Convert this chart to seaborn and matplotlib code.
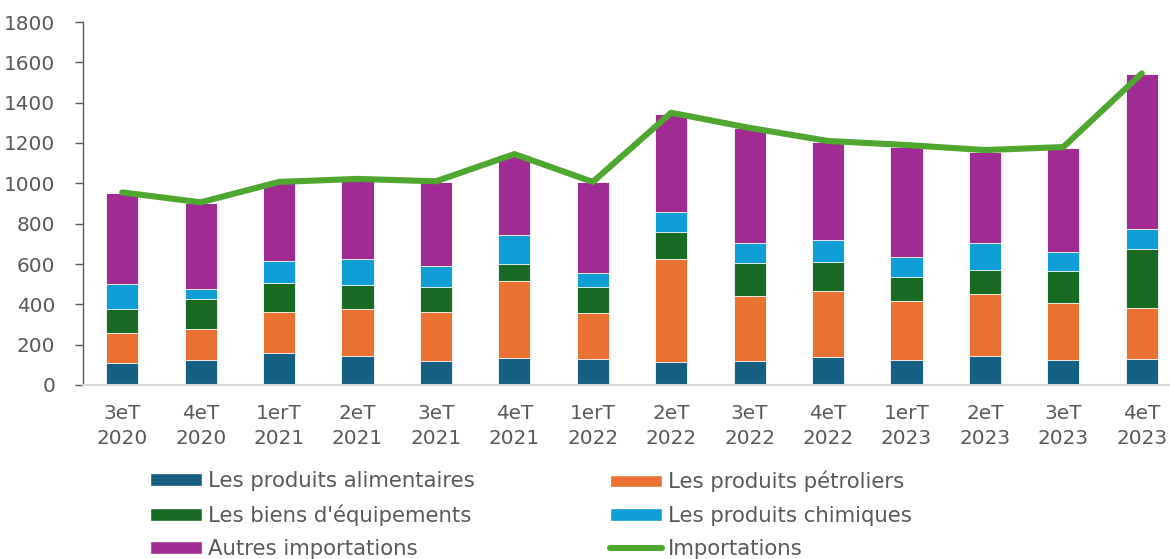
import numpy as np
import pandas as pd
import matplotlib
matplotlib.use("Agg")
import matplotlib.pyplot as plt
from matplotlib.patches import Patch
from matplotlib.lines import Line2D
import seaborn as sns

# Quarterly import values by product group
quarters = ["3eT\n2020", "4eT\n2020", "1erT\n2021", "2eT\n2021", "3eT\n2021", "4eT\n2021",
            "1erT\n2022", "2eT\n2022", "3eT\n2022", "4eT\n2022", "1erT\n2023", "2eT\n2023",
            "3eT\n2023", "4eT\n2023"]
alimentaires = [111, 122, 159, 145, 121, 135, 127, 113, 117, 139, 124, 142, 126, 127]
petroliers = [148, 156, 201, 232, 241, 382, 230, 513, 324, 327, 293, 308, 281, 255]
equipements = [116, 147, 144, 117, 122, 81, 130, 131, 162, 145, 120, 119, 157, 291]
chimiques = [124, 51, 111, 131, 104, 144, 70, 99, 100, 108, 96, 134, 97, 101]
autres = [454, 428, 392, 395, 419, 399, 450, 489, 570, 488, 549, 454, 516, 768]
importations = [955, 906, 1007, 1022, 1010, 1145, 1007, 1350, 1275, 1210, 1190, 1165, 1180, 1545]

series_names = ["Les produits alimentaires", "Les produits pétroliers", "Les biens d'équipements",
                "Les produits chimiques", "Autres importations"]
series_values = [alimentaires, petroliers, equipements, chimiques, autres]
colors = ["#156082", "#E97132", "#196B24", "#0F9ED5", "#A02B93"]
line_color = "#4EA72E"
text_color = "#595959"

sns.set_style("white")
plt.rcParams["font.family"] = ["DejaVu Sans"]

fig = plt.figure(figsize=(11.7, 5.59), dpi=100)
ax = fig.add_axes([83 / 1170, 174 / 559, (1181 - 83) / 1170, 363 / 559])

# Stacked bars: draw cumulative totals from the top layer down
cum = np.cumsum(np.array(series_values), axis=0)
for i in range(len(series_names) - 1, -1, -1):
    df = pd.DataFrame({"q": quarters, "v": cum[i]})
    sns.barplot(data=df, x="q", y="v", order=quarters, color=colors[i], width=0.41,
                saturation=1, edgecolor="white", linewidth=0.6, ax=ax, zorder=2)

# Total imports line
ldf = pd.DataFrame({"pos": np.arange(len(quarters)), "v": importations})
sns.lineplot(data=ldf, x="pos", y="v", color=line_color, linewidth=4.4, ax=ax,
             zorder=3, solid_capstyle="round", solid_joinstyle="round")

ax.set_xlim(-0.5, len(quarters) - 0.5)
ax.set_ylim(0, 1800)
ax.set_yticks(np.arange(0, 1801, 200))
ax.set_xticks(np.arange(len(quarters)))
ax.set_xticklabels(quarters, linespacing=1.35)
ax.set_xlabel("")
ax.set_ylabel("")

for s in ["top", "right"]:
    ax.spines[s].set_visible(False)
ax.spines["left"].set_color("#595959")
ax.spines["left"].set_linewidth(1.0)
ax.spines["bottom"].set_color("#D9D9D9")
ax.spines["bottom"].set_linewidth(1.5)

ax.tick_params(axis="y", left=True, length=6, width=1, color="#595959",
               labelsize=14.4, labelcolor=text_color, pad=14)
ax.tick_params(axis="x", bottom=False, length=0, labelsize=14.4,
               labelcolor=text_color, pad=14)

# Legend in two columns below the chart
h_left = [Patch(facecolor=colors[0]), Patch(facecolor=colors[2]), Patch(facecolor=colors[4])]
l_left = [series_names[0], series_names[2], series_names[4]]
h_right = [Patch(facecolor=colors[1]), Patch(facecolor=colors[3]),
           Line2D([0], [0], color=line_color, linewidth=4.4, solid_capstyle="round")]
l_right = [series_names[1], series_names[3], "Importations"]

common = dict(loc="upper left", frameon=False, fontsize=15.3, handlelength=2.45,
              handleheight=0.55, handletextpad=0.28, labelspacing=0.62, borderpad=0,
              borderaxespad=0, labelcolor=text_color)
leg1 = fig.legend(h_left, l_left, bbox_to_anchor=(150 / 1170, 1 - 471 / 559), **common)
leg2 = fig.legend(h_right, l_right, bbox_to_anchor=(610 / 1170, 1 - 471 / 559), **common)

fig.savefig("out.png", dpi=100)
